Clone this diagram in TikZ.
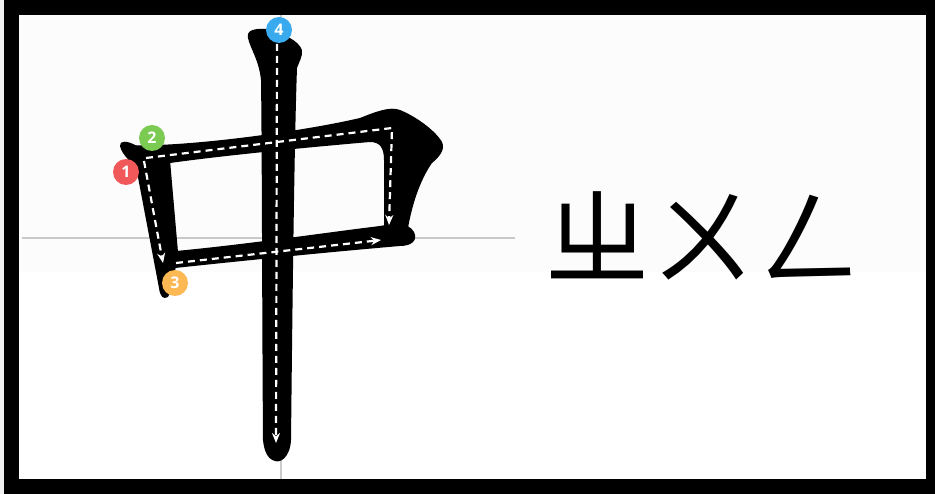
\documentclass[tikz,border=0pt]{standalone}
\usepackage{fontspec}
\newfontfamily\cjkfont{Noto Sans CJK TC}
\newfontfamily\numfont{Open Sans}
\usepackage{tikz}
\usetikzlibrary{arrows.meta, positioning}
\definecolor{numred}{RGB}{240,88,90}
\definecolor{numgreen}{RGB}{123,202,82}
\definecolor{numorange}{RGB}{252,184,82}
\definecolor{numblue}{RGB}{58,170,238}
\definecolor{bandgray}{RGB}{252,252,252}

\begin{document}
\begin{tikzpicture}[x=1pt, y=-1pt,
    guide/.style={white, line width=2.2pt, dash pattern=on 7pt off 5pt,
                  -{Stealth[length=10pt, width=8pt]}},
    num/.style={circle, minimum size=26pt, inner sep=0pt, text=white,
                font=\numfont\bfseries\fontsize{16}{16}\selectfont},
    gridline/.style={black, opacity=0.2, line width=1.4pt}]
  \useasboundingbox (0,0) rectangle (935,494);
  % frame
  \fill[black!6] (0,0) rectangle (935,494);
  \fill[black] (4,0) rectangle (935,494);
  \fill[white] (19,15) rectangle (926,479);
  \fill[bandgray] (19,15) rectangle (926,272);

  % strokes of the character
  \fill[black] (120,146) .. controls (119,140) and (128,141) .. (135,145)
    -- (170,160) -- (178,252) .. controls (176,268) and (172,290) .. (168,297)
    .. controls (163,300) and (160,296) .. (159,288) -- (137,172)
    .. controls (133,162) and (122,156) .. cycle;
  \fill[black] (125,145) .. controls (180,148) and (300,132) .. (360,118)
    .. controls (375,112) and (390,106) .. (400,110)
    .. controls (415,116) and (435,130) .. (442,142)
    .. controls (446,150) and (438,158) .. (432,163)
    .. controls (420,180) and (412,205) .. (408,228) -- (384,226) -- (384,160)
    .. controls (384,148) and (380,142) .. (370,142)
    .. controls (300,148) and (220,156) .. (170,163) -- (140,165) -- cycle;
  \fill[black] (176,251) .. controls (250,244) and (330,232) .. (380,226)
    .. controls (395,223) and (408,222) .. (414,232)
    .. controls (418,240) and (412,246) .. (400,246)
    .. controls (330,252) and (250,260) .. (175,268) -- cycle;
  \fill[black] (248,38) .. controls (246,30) and (255,28) .. (268,29)
    .. controls (285,35) and (298,40) .. (302,50)
    .. controls (303,56) and (299,62) .. (297,68)
    .. controls (294,150) and (292,350) .. (291,440)
    .. controls (290,458) and (280,463) .. (275,461)
    .. controls (267,459) and (264,450) .. (263,440)
    .. controls (262,300) and (262,150) .. (261,80)
    .. controls (259,60) and (250,48) .. cycle;

  % guide lines
  \draw[gridline] (22,238) -- (515,238);
  \draw[gridline] (281,0) -- (281,494);

  % stroke order
  \coordinate (s1a) at (144,161);
  \coordinate (s1b) at (163,263);
  \coordinate (s2a) at (146,158);
  \coordinate (s2b) at (392,128);
  \coordinate (s2c) at (389,225);
  \coordinate (s3a) at (176,263);
  \coordinate (s3b) at (381,240);
  \coordinate (s4a) at (277,44);
  \coordinate (s4b) at (276,443);
  \draw[guide] (s1a) -- (s1b);
  \draw[guide] (s2a) -- (s2b) -- (s2c);
  \draw[guide] (s3a) -- (s3b);
  \draw[guide] (s4a) -- (s4b);

  \foreach \n/\c/\p in {1/numred/{(126,172)}, 2/numgreen/{(152,138)},
                        3/numorange/{(175,283)}, 4/numblue/{(279,30)}} {
    \node[num, fill=\c] (n\n) at \p {\n};
  }

  % zhuyin
  \node[font=\cjkfont\fontsize{106}{110}\selectfont, inner sep=0pt]
    (zhuyin) at (703,236) {ㄓㄨㄥ};
\end{tikzpicture}
\end{document}
